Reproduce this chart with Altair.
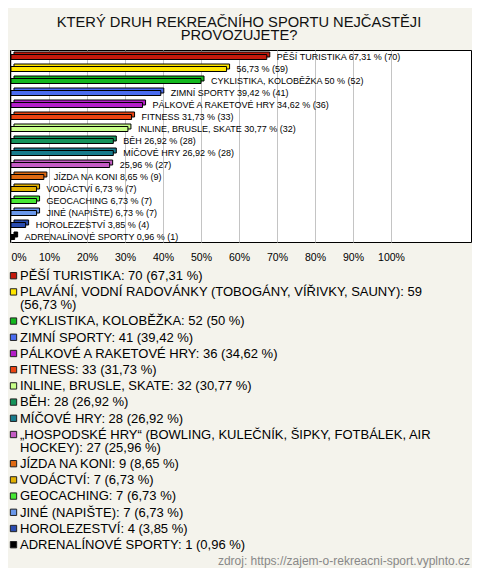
import textwrap
import altair as alt
import pandas as pd

names = [
    "PĚŠÍ TURISTIKA",
    "PLAVÁNÍ, VODNÍ RADOVÁNKY (TOBOGÁNY, VÍŘIVKY, SAUNY)",
    "CYKLISTIKA, KOLOBĚŽKA",
    "ZIMNÍ SPORTY",
    "PÁLKOVÉ A RAKETOVÉ HRY",
    "FITNESS",
    "INLINE, BRUSLE, SKATE",
    "BĚH",
    "MÍČOVÉ HRY",
    "„HOSPODSKÉ HRY“ (BOWLING, KULEČNÍK, ŠIPKY, FOTBÁLEK, AIR HOCKEY)",
    "JÍZDA NA KONI",
    "VODÁCTVÍ",
    "GEOCACHING",
    "JINÉ (NAPIŠTE)",
    "HOROLEZESTVÍ",
    "ADRENALÍNOVÉ SPORTY",
]
bar_names = [
    "PĚŠÍ TURISTIKA", "", "CYKLISTIKA, KOLOBĚŽKA", "ZIMNÍ SPORTY",
    "PÁLKOVÉ A RAKETOVÉ HRY", "FITNESS", "INLINE, BRUSLE, SKATE", "BĚH",
    "MÍČOVÉ HRY", "", "JÍZDA NA KONI", "VODÁCTVÍ", "GEOCACHING",
    "JINÉ (NAPIŠTE)", "HOROLEZESTVÍ", "ADRENALÍNOVÉ SPORTY",
]
counts = [70, 59, 52, 41, 36, 33, 32, 28, 28, 27, 9, 7, 7, 7, 4, 1]
percents = [67.31, 56.73, 50, 39.42, 34.62, 31.73, 30.77, 26.92, 26.92, 25.96,
            8.65, 6.73, 6.73, 6.73, 3.85, 0.96]
colors = ["#c41a0c", "#ffe600", "#13b81e", "#4a6cf0", "#b41ec8", "#ec4412",
          "#c8ff8a", "#14935a", "#177b8c", "#c45cc4", "#e06a12", "#e2b000",
          "#46e834", "#6a98ea", "#2a4cae", "#000000"]
tick_values = [0, 10, 20, 30, 40, 50, 60, 70, 80, 90, 100]
title_text = "KTERÝ DRUH REKREAČNÍHO SPORTU NEJČASTĚJI\nPROVOZUJETE?"
source_text = "zdroj: https://zajem-o-rekreacni-sport.vyplnto.cz"

FONT = "Liberation Sans"


def fmt(p):
    return f"{p:g}".replace(".", ",")


bar_labels = [((b + " ") if b else "") + f"{fmt(p)} % ({c})"
              for b, p, c in zip(bar_names, percents, counts)]
legend_labels = ["\n".join(textwrap.wrap(f"{n}: {c} ({fmt(p)} %)", width=56))
                 for n, c, p in zip(names, counts, percents)]
extra = []
acc = 0
for lab in legend_labels:
    extra.append(acc)
    acc += lab.count("\n")
slot = [i + 0.8 * e for i, e in enumerate(extra)]

df = pd.DataFrame({
    "name": names,
    "value": percents,
    "blabel": bar_labels,
    "llabel": legend_labels,
    "slot": slot,
})

color = alt.Color("name:N", scale=alt.Scale(domain=names, range=colors), legend=None)
yb = alt.Y("name:N", sort=names, axis=None,
           scale=alt.Scale(paddingInner=0, paddingOuter=0))
xscale = alt.Scale(domain=[-0.263, 121.05], nice=False, zero=False)
xaxis = alt.Axis(values=tick_values, labelExpr="datum.value + '%'", grid=True,
                 gridColor="#c4c4c4", gridWidth=1,
                 domain=False, ticks=False, labelPadding=10, labelFontSize=10.5,
                 labelFont=FONT, labelColor="#000", labelFlush=3, title=None)
xb = alt.X("value:Q", scale=xscale, axis=xaxis)

base = alt.Chart(df)

back = base.mark_bar(height=5, xOffset=3, yOffset=-1.5, stroke="black",
                     strokeWidth=1).encode(x=xb, y=yb, color=color)
front = base.mark_bar(height=5, yOffset=1, stroke="black",
                      strokeWidth=1).encode(x=xb, y=yb, color=color)
labels = base.mark_text(align="left", baseline="middle", dx=10, dy=0.5,
                        fontSize=9, font=FONT, color="#000").encode(
    x=xb, y=yb, text="blabel:N")

bars = alt.layer(back, front, labels)

ly = alt.Y("slot:Q", axis=None,
           scale=alt.Scale(domain=[0, slot[-1]], range=[230, 499], nice=False, zero=False))
leg_sq = base.mark_square(size=40, yOffset=-4.3, stroke="#222", strokeWidth=1,
                          opacity=1).encode(x=alt.value(3.5), y=ly, color=color)
leg_tx = base.mark_text(align="left", baseline="alphabetic", fontSize=13,
                        font=FONT, lineBreak="\n", lineHeight=13,
                        color="#000").encode(x=alt.value(10), y=ly, text="llabel:N")
legend = alt.layer(leg_sq, leg_tx)

title = alt.Chart(pd.DataFrame({"t": [title_text]})).mark_text(
    align="center", baseline="alphabetic", fontSize=14.7, font=FONT,
    lineBreak="\n", lineHeight=13, color="#111"
).encode(x=alt.value(229), y=alt.value(-23.5), text="t:N")

source = alt.Chart(pd.DataFrame({"t": [source_text]})).mark_text(
    align="right", baseline="alphabetic", fontSize=12, font=FONT, color="#888"
).encode(x=alt.value(460), y=alt.value(514.5), text="t:N")

chart = alt.layer(bars, legend, title, source).resolve_scale(
    y="independent"
).properties(
    width=461, height=192,
    autosize=alt.AutoSizeParams(type="none"),
    padding={"left": 2, "top": 42, "right": 1, "bottom": 326},
    background="#f4f3ec",
).configure_view(fill="white", stroke="black", strokeWidth=1)

chart.save("out.html", embed_options={"renderer": "svg", "actions": False})
